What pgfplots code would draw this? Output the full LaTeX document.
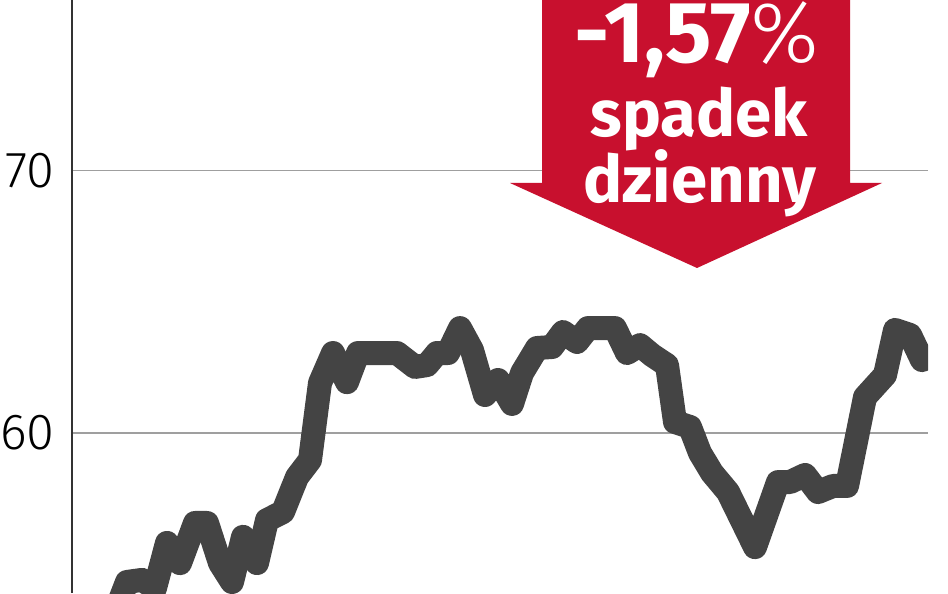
\documentclass[border=0pt]{standalone}
\usepackage{pgfplots}
\pgfplotsset{compat=1.18}
\usepackage{fontspec}
\setmainfont{Fira Sans}
\newfontfamily\firalight{Fira Sans Light}
\newfontfamily\firabold{Fira Sans}[UprightFont={* Bold}]
\definecolor{arrowred}{RGB}{200,16,46}
\definecolor{linegray}{RGB}{68,68,68}
\begin{document}
\begin{tikzpicture}
\useasboundingbox (0,0) rectangle (711pt,444.75pt);
\clip (0,0) rectangle (711pt,444.75pt);
\begin{axis}[
  at={(54pt,0pt)}, anchor=south west,
  scale only axis, width=642pt, height=444.75pt,
  xmin=72, xmax=928, ymin=53.90, ymax=76.51,
  axis x line=none, axis y line=left,
  y axis line style={-, draw=black!80, line width=1.2pt},
  ytick={60,70}, major tick length=0pt,
  ymajorgrids, grid style={draw=gray!75, line width=1.1pt},
  /pgf/number format/assume math mode=true,
  yticklabel style={font=\fontsize{38pt}{38pt}\firalight, inner sep=0pt, xshift=-12.75pt, text=black},
  every axis plot/.append style={line width=18pt},
]
\addplot[color=linegray, line join=round, line cap=round, line width=18pt] coordinates {
(120,53.63) (127,54.32) (142,54.40) (155,54.09) (167,55.81) (180,55.04)
(195,56.57) (207,56.57) (220,55.04) (232,54.32) (243,56.04) (257,55.04)
(267,56.68) (283,56.99) (297,58.32) (310,58.97) (320,61.91) (333,63.05)
(347,61.94) (358,63.05) (397,63.05) (415,62.52) (427,62.59) (437,63.05)
(448,63.05) (460,64.00) (472,63.16) (485,61.45) (498,62.02) (512,61.11)
(522,62.29) (537,63.24) (552,63.28) (563,63.85) (577,63.47) (588,64.00)
(615,64.00) (627,63.05) (640,63.35) (652,62.97) (667,62.59) (675,60.42)
(690,60.23) (700,59.24) (712,58.48) (728,57.75) (755,55.65) (778,58.13)
(790,58.13) (805,58.40) (818,57.75) (833,57.98) (847,57.98) (865,61.37)
(885,62.21) (895,63.93) (910,63.74) (922,62.78)
};
\end{axis}
\begin{scope}[x=0.75pt, y=-0.75pt, shift={(0pt,444.75pt)}]
\fill[arrowred] (542,-5) -- (850,-5) -- (850,183) -- (882,183) -- (697,268) -- (510,183) -- (542,183) -- cycle;
\node[anchor=base, inner sep=0pt, text=white] at (697,63) {\fontsize{65pt}{65pt}\firabold -1,57\firalight\%};
\node[anchor=base, inner sep=0pt, text=white] at (699,137) {\fontsize{49pt}{49pt}\firabold spadek};
\node[anchor=base, inner sep=0pt, text=white] at (700,203) {\fontsize{49pt}{49pt}\firabold dzienny};
\end{scope}
\end{tikzpicture}
\end{document}
